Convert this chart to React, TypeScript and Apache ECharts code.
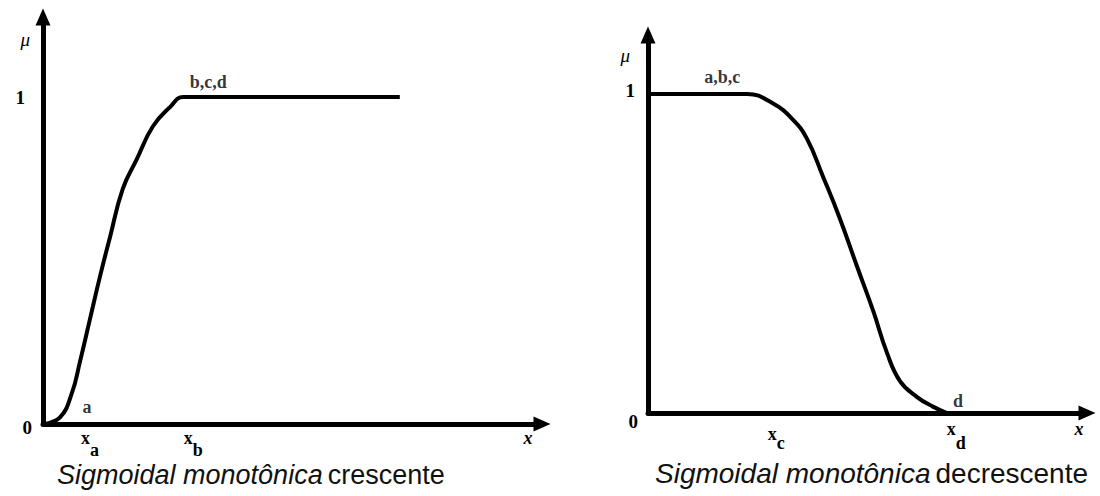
import { useEffect, useRef } from "react";
import * as echarts from "echarts";

// ---------- data ----------
const leftCurveX = [0, 0.34, 0.58, 0.74, 0.94, 1.14, 1.34, 1.6, 1.88, 2.2, 2.55, 2.81, 7.15];
const leftCurveY = [0, 0.02, 0.095, 0.19, 0.32, 0.45, 0.57, 0.72, 0.81, 0.91, 0.97, 1.0, 1.0];

const rightCurveX = [0, 2.26, 2.85, 3.3, 3.62, 3.99, 4.37, 4.76, 5.13, 5.44, 5.74, 6.13, 6.49, 6.81];
const rightCurveY = [1, 1, 0.97, 0.92, 0.86, 0.74, 0.61, 0.46, 0.32, 0.19, 0.1, 0.05, 0.02, 0];

const leftPointLabels = ["a", "b,c,d"];
const leftPointLabelX = [0.88, 3.31];
const leftPointLabelY = [0.052, 1.046];

const rightPointLabels = ["a,b,c", "d"];
const rightPointLabelX = [1.69, 7.06];
const rightPointLabelY = [1.053, 0.038];

const leftXTickValues = [0.94, 3.01, 9.72];
const leftXTickMain = ["x", "x", "x"];
const leftXTickSub = ["a", "b", ""];

const rightXTickValues = [2.92, 7.02, 9.82];
const rightXTickMain = ["x", "x", "x"];
const rightXTickSub = ["c", "d", ""];

const leftYTickValues = [0, 1, 1.177];
const leftYTickLabels = ["0", "1", "μ"];

const rightYTickValues = [0, 1, 1.122];
const rightYTickLabels = ["0", "1", "μ"];

const captionItalic = "Sigmoidal monotônica";
const leftCaptionRest = "crescente";
const rightCaptionRest = "decrescente";

// ---------- helpers ----------
const SERIF = "'Liberation Serif', 'Times New Roman', serif";
const SANS = "'Liberation Sans', Arial, sans-serif";
const INK = "#000";

const findIdx = (arr: number[], v: number) => {
  let best = 0;
  let d = Infinity;
  arr.forEach((a, i) => {
    const dd = Math.abs(a - v);
    if (dd < d) {
      d = dd;
      best = i;
    }
  });
  return best;
};

const axisLineStyle = {
  show: true,
  onZero: false,
  symbol: ["none", "triangle"],
  symbolSize: [15, 17],
  lineStyle: { color: INK, width: 5 },
};

const xRich = (lh: number) => ({
  x: { fontFamily: SERIF, fontWeight: "bold", fontSize: 18, color: INK, lineHeight: lh, verticalAlign: "top" },
  xp: { fontFamily: SERIF, fontWeight: "bold", fontSize: 18, color: INK, lineHeight: lh, verticalAlign: "top", padding: [5, 0, 0, 0] },
  s: { fontFamily: SERIF, fontWeight: "bold", fontSize: 18, color: INK, lineHeight: lh, verticalAlign: "bottom" },
  v: { fontFamily: SERIF, fontStyle: "italic", fontWeight: "bold", fontSize: 18, color: INK, lineHeight: lh, verticalAlign: "top" },
});

const yRich = {
  z: { fontFamily: SERIF, fontWeight: "bold", fontSize: 19, color: INK },
  o: { fontFamily: SERIF, fontWeight: "bold", fontSize: 19, color: INK },
  m: { fontFamily: SERIF, fontStyle: "italic", fontSize: 19, color: INK },
};

const captionRich = (size: number) => ({
  i: { fontFamily: SANS, fontStyle: "italic", fontWeight: "normal", fontSize: size, color: "#111" },
  n: { fontFamily: SANS, fontWeight: "normal", fontSize: size, color: "#111" },
});

export default function App() {
  const ref = useRef<HTMLDivElement>(null);

  useEffect(() => {
    if (!ref.current) return;
    const chart = echarts.init(ref.current, null, { renderer: "svg" });

    const option: any = {
      animation: false,
      backgroundColor: "#fff",
      title: [
        {
          text: `{i|${captionItalic}} {n|${leftCaptionRest}}`,
          left: 57,
          top: 461,
          padding: 0,
          textStyle: { fontWeight: "normal", rich: captionRich(27) },
        },
        {
          text: `{i|${captionItalic}} {n|${rightCaptionRest}}`,
          left: 655,
          top: 459,
          padding: 0,
          textStyle: { fontWeight: "normal", rich: captionRich(28) },
        },
      ],
      grid: [
        { left: 43, right: 558, top: 17, bottom: 72, containLabel: false, outerBoundsMode: "none" },
        { left: 648, right: 13, top: 35, bottom: 83, containLabel: false, outerBoundsMode: "none" },
      ],
      xAxis: [
        {
          gridIndex: 0,
          type: "value",
          min: 0,
          max: 10,
          axisLine: axisLineStyle,
          axisTick: { show: false },
          splitLine: { show: false },
          axisLabel: {
            customValues: leftXTickValues,
            margin: 5,
            formatter: (val: number) => {
              const i = findIdx(leftXTickValues, val);
              if (!leftXTickSub[i]) return `{v|${leftXTickMain[i]}}`;
              return `{x|${leftXTickMain[i]}}{s|${leftXTickSub[i]}}`;
            },
            rich: xRich(30),
          },
        },
        {
          gridIndex: 1,
          type: "value",
          min: 0,
          max: 10,
          axisLine: axisLineStyle,
          axisTick: { show: false },
          splitLine: { show: false },
          axisLabel: {
            customValues: rightXTickValues,
            margin: 7,
            formatter: (val: number) => {
              const i = findIdx(rightXTickValues, val);
              if (!rightXTickSub[i]) return `{v|${rightXTickMain[i]}}`;
              const main = i === 0 ? "xp" : "x";
              return `{${main}|${rightXTickMain[i]}}{s|${rightXTickSub[i]}}`;
            },
            rich: xRich(32),
          },
        },
      ],
      yAxis: [
        {
          gridIndex: 0,
          type: "value",
          min: 0,
          max: 1.245,
          axisLine: axisLineStyle,
          axisTick: { show: false },
          splitLine: { show: false },
          axisLabel: {
            customValues: leftYTickValues,
            margin: 11,
            formatter: (val: number) => {
              const i = findIdx(leftYTickValues, val);
              const key = i === 0 ? "z" : i === 1 ? "o" : "m";
              return `{${key}|${leftYTickLabels[i]}}`;
            },
            rich: {
              z: { ...yRich.z, padding: [6, 0, 0, 0] },
              o: { ...yRich.o, padding: [0, 7, 0, 0] },
              m: { ...yRich.m, padding: [0, 2, 0, 0] },
            },
          },
        },
        {
          gridIndex: 1,
          type: "value",
          min: 0,
          max: 1.185,
          axisLine: axisLineStyle,
          axisTick: { show: false },
          splitLine: { show: false },
          axisLabel: {
            customValues: rightYTickValues,
            margin: 10,
            formatter: (val: number) => {
              const i = findIdx(rightYTickValues, val);
              const key = i === 0 ? "z" : i === 1 ? "o" : "m";
              return `{${key}|${rightYTickLabels[i]}}`;
            },
            rich: {
              z: { ...yRich.z, padding: [16, 0, 0, 0] },
              o: { ...yRich.o, padding: [0, 3, 8, 0] },
              m: { ...yRich.m, padding: [0, 8, 0, 0] },
            },
          },
        },
      ],
      series: [
        {
          type: "line",
          xAxisIndex: 0,
          yAxisIndex: 0,
          data: leftCurveX.map((x, i) => [x, leftCurveY[i]]),
          showSymbol: false,
          smooth: 0.45,
          lineStyle: { color: INK, width: 4 },
          silent: true,
          z: 1,
        },
        {
          type: "line",
          xAxisIndex: 1,
          yAxisIndex: 1,
          data: rightCurveX.map((x, i) => [x, rightCurveY[i]]),
          showSymbol: false,
          smooth: 0.45,
          lineStyle: { color: INK, width: 4 },
          silent: true,
          z: 1,
        },
        {
          type: "scatter",
          xAxisIndex: 0,
          yAxisIndex: 0,
          symbolSize: 1,
          itemStyle: { color: "rgba(0,0,0,0)" },
          silent: true,
          data: leftPointLabelX.map((x, i) => [x, leftPointLabelY[i], leftPointLabels[i]]),
          label: {
            show: true,
            position: "inside",
            formatter: (p: any) => p.value[2],
            fontFamily: SERIF,
            fontWeight: "bold",
            fontSize: 18,
            color: INK,
          },
        },
        {
          type: "scatter",
          xAxisIndex: 1,
          yAxisIndex: 1,
          symbolSize: 1,
          itemStyle: { color: "rgba(0,0,0,0)" },
          silent: true,
          data: rightPointLabelX.map((x, i) => [x, rightPointLabelY[i], rightPointLabels[i]]),
          label: {
            show: true,
            position: "inside",
            formatter: (p: any) => p.value[2],
            fontFamily: SERIF,
            fontWeight: "bold",
            fontSize: 18,
            color: INK,
          },
        },
      ],
    };

    chart.setOption(option);
    return () => chart.dispose();
  }, []);

  return (
    <div
      ref={ref}
      style={{ position: "fixed", left: 0, top: 0, width: 1100, height: 496, background: "#fff" }}
    />
  );
}
